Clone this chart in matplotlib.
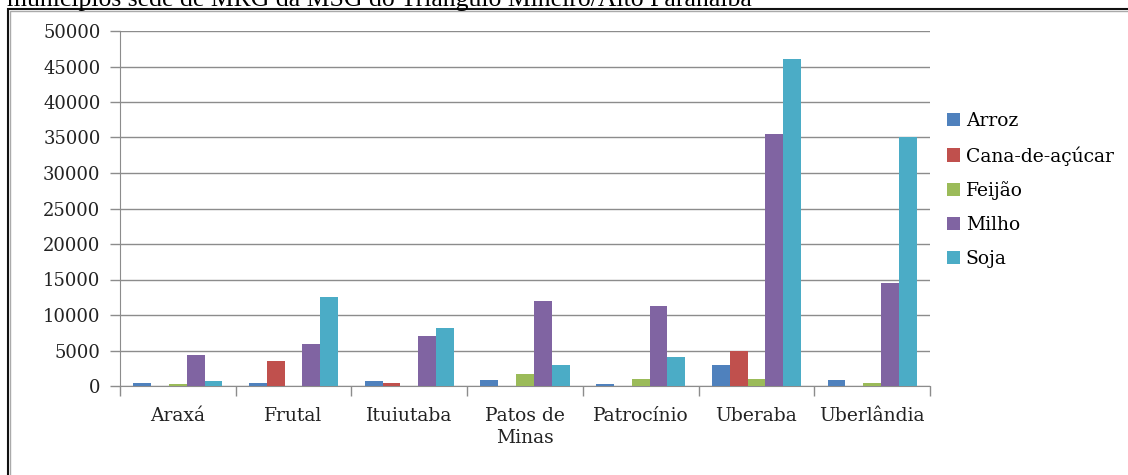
import numpy as np
import matplotlib
matplotlib.use("Agg")
import matplotlib.pyplot as plt
from matplotlib.patches import Rectangle

# area colhida (ha) por cultura nos municipios sede de MRG
cidades = ["Araxá", "Frutal", "Ituiutaba", "Patos de\nMinas", "Patrocínio", "Uberaba", "Uberlândia"]
culturas = ["Arroz", "Cana-de-açúcar", "Feijão", "Milho", "Soja"]
arroz = [450, 450, 700, 900, 250, 3000, 900]
cana = [0, 3500, 450, 0, 0, 5000, 0]
feijao = [250, 0, 0, 1700, 1000, 1000, 400]
milho = [4300, 5900, 7000, 12000, 11300, 35500, 14500]
soja = [700, 12600, 8100, 3000, 4100, 46000, 35100]
cores = ["#4F81BD", "#C0504D", "#9BBB59", "#8064A2", "#4BACC6"]
yticks = [0, 5000, 10000, 15000, 20000, 25000, 30000, 35000, 40000, 45000, 50000]

plt.rcParams['font.family'] = ['DejaVu Serif']

fig = plt.figure(figsize=(11.28, 4.75), dpi=100)
ax = fig.add_axes([120 / 1128, 1 - 386 / 475, 810 / 1128, 355 / 475])

x = np.arange(len(cidades))
w = 1 / 6.5
series = [arroz, cana, feijao, milho, soja]
for i, (vals, nome) in enumerate(zip(series, culturas)):
    ax.bar(x + (i - 2) * w, vals, w, color=cores[i], label=nome, zorder=3)

ax.set_xlim(-0.5, len(cidades) - 0.5)
ax.set_ylim(0, 50000)
ax.set_yticks(yticks)
ax.set_yticklabels([str(v) for v in yticks], fontsize=13, color="#222222")
ax.yaxis.grid(True, color="#8c8c8c", linewidth=1, zorder=0)

# rotulos no centro, marcas entre as categorias
ax.set_xticks(x)
ax.set_xticklabels(cidades, fontsize=13.5, color="#222222", linespacing=1.3)
ax.set_xticks(np.arange(len(cidades) + 1) - 0.5, minor=True)
ax.tick_params(axis="x", which="major", length=0, pad=15)
ax.tick_params(axis="x", which="minor", length=7, color="#8c8c8c", width=1)
ax.tick_params(axis="y", length=7, color="#8c8c8c", width=1, pad=7)

for s in ["top", "right"]:
    ax.spines[s].set_visible(False)
for s in ["left", "bottom"]:
    ax.spines[s].set_color("#8c8c8c")

leg = ax.legend(loc="upper left", bbox_to_anchor=(1.0, 0.819), frameon=False,
                fontsize=13.5, handlelength=0.7, handleheight=0.7,
                handletextpad=0.3, labelspacing=0.85)

# moldura do grafico
fig.patches.append(Rectangle((8 / 1128, -0.05), 1.2, 1 - 9 / 475 + 0.05,
                             transform=fig.transFigure, fill=False,
                             edgecolor="#111111", linewidth=1.5))
fig.patches.append(Rectangle((10 / 1128, -0.05), 1.2, 1 - 11 / 475 + 0.05,
                             transform=fig.transFigure, fill=False,
                             edgecolor="#aaaaaa", linewidth=1))

fig.text(7 / 1128, 1 - 6 / 475, "municípios sede de MRG da MSG do Triângulo Mineiro/Alto Paranaíba",
         family="Liberation Serif", fontsize=18.5, va="baseline", ha="left")

fig.savefig("out.png", dpi=100)
